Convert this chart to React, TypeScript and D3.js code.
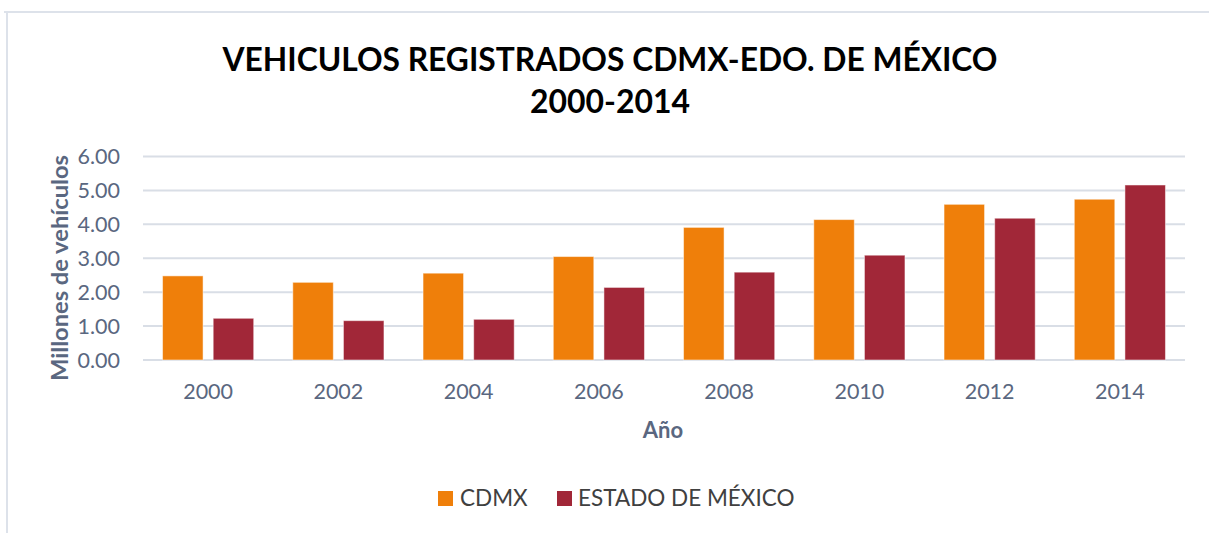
import React from 'react';
import * as d3 from 'd3';

const years = ['2000', '2002', '2004', '2006', '2008', '2010', '2012', '2014'];
const cdmx = [2.48, 2.29, 2.56, 3.05, 3.91, 4.14, 4.59, 4.74];
const edomex = [1.23, 1.16, 1.2, 2.14, 2.59, 3.09, 4.18, 5.16];
const seriesNames = ['CDMX', 'ESTADO DE MÉXICO'];
const colors = ['#EF7F0A', '#A12738'];
const yTicks = [0, 1, 2, 3, 4, 5, 6];

const W = 1209;
const H = 533;
const plot = { left: 143, right: 1185, top: 156.5, bottom: 360 };
const font = "Lato, 'Open Sans', sans-serif";
const axisColor = '#5A6780';

const App = () => {
  const x = d3.scaleBand<string>()
    .domain(years)
    .range([plot.left, plot.right])
    .paddingInner(0.3)
    .paddingOuter(0.15);

  const xSub = d3.scaleBand<number>()
    .domain([0, 1])
    .range([0, x.bandwidth()])
    .paddingInner(0.2);

  const y = d3.scaleLinear().domain([0, 6]).range([plot.bottom, plot.top]);

  const series = [cdmx, edomex];

  return (
    <svg width={W} height={H} style={{ position: 'absolute', left: 0, top: 0 }}>
      <rect x={0} y={0} width={W} height={H} fill="#fff" />
      {/* chart frame (only top and left edges visible) */}
      <line x1={4} x2={W} y1={12} y2={12} stroke="#DDE2EA" strokeWidth={2} />
      <line x1={7} x2={7} y1={12} y2={H} stroke="#DDE2EA" strokeWidth={2} />

      <text x={610} y={71} textAnchor="middle" fontFamily={font} fontWeight="bold"
        fontSize={32} fill="#000" textLength={775} lengthAdjust="spacingAndGlyphs">
        VEHICULOS REGISTRADOS CDMX-EDO. DE MÉXICO
      </text>
      <text x={610} y={113} textAnchor="middle" fontFamily={font} fontWeight="bold"
        fontSize={32} fill="#000" textLength={160} lengthAdjust="spacingAndGlyphs">
        2000-2014
      </text>

      {yTicks.map(t => (
        <g key={t}>
          <line x1={plot.left} x2={plot.right} y1={y(t)} y2={y(t)} stroke="#D9DEE6" strokeWidth={2} />
          <text x={120} y={y(t)} dy="0.35em" textAnchor="end" fontFamily={font}
            fontSize={21.5} fill={axisColor}>
            {d3.format('.2f')(t)}
          </text>
        </g>
      ))}

      {years.map((yr, i) => (
        <g key={yr} transform={`translate(${x(yr)},0)`}>
          {series.map((s, j) => (
            <rect key={j} x={xSub(j)} y={y(s[i])} width={xSub.bandwidth()}
              height={y(0) - y(s[i])} fill={colors[j]}
              stroke="#fff" strokeOpacity={0.5} strokeWidth={1} />
          ))}
          <text x={x.bandwidth() / 2} y={391} dy="0.35em" textAnchor="middle"
            fontFamily={font} fontSize={21.5} fill={axisColor}>
            {yr}
          </text>
        </g>
      ))}

      <text x={663} y={430} dy="0.35em" textAnchor="middle" fontFamily={font}
        fontWeight="bold" fontSize={22} fill={axisColor}>
        Año
      </text>
      <text transform="translate(60,268) rotate(-90)" dy="0.35em" textAnchor="middle"
        fontFamily={font} fontWeight="bold" fontSize={23} fill={axisColor}
        textLength={226} lengthAdjust="spacingAndGlyphs">
        Millones de vehículos
      </text>

      <g>
        <rect x={438} y={491} width={15} height={15} fill={colors[0]} />
        <text x={460} y={498.5} dy="0.35em" fontFamily={font} fontSize={22.5} fill="#404040">
          {seriesNames[0]}
        </text>
        <rect x={557} y={491} width={15} height={15} fill={colors[1]} />
        <text x={578} y={498.5} dy="0.35em" fontFamily={font} fontSize={22.5} fill="#404040">
          {seriesNames[1]}
        </text>
      </g>
    </svg>
  );
};

export default App;
